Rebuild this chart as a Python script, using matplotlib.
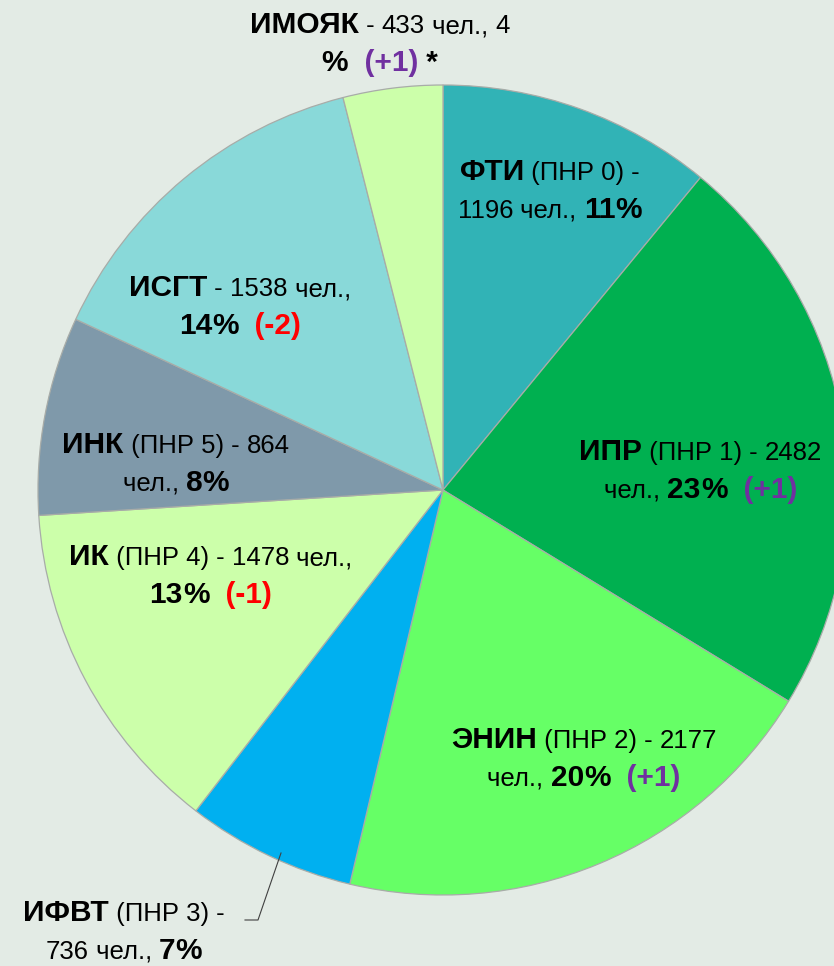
import matplotlib
matplotlib.use('Agg')
import matplotlib.pyplot as plt
from matplotlib.offsetbox import TextArea, HPacker, VPacker, AnnotationBbox

names = ['ФТИ', 'ИПР', 'ЭНИН', 'ИФВТ', 'ИК', 'ИНК', 'ИСГТ', 'ИМОЯК']
counts = [1196, 2482, 2177, 736, 1478, 864, 1538, 433]
percents = [11, 23, 20, 7, 13, 8, 14, 4]
pnr = ['ПНР 0', 'ПНР 1', 'ПНР 2', 'ПНР 3', 'ПНР 4', 'ПНР 5', '', '']
deltas = ['', '+1', '+1', '', '-1', '', '-2', '+1']
colors = ['#31b3b6', '#00b050', '#66ff66', '#00b0f0', '#ccffaa', '#7f99aa', '#89d9d9', '#ccffaa']

# token where the second line of each label starts
breaks = ['count', 'chel', 'chel', 'count', 'pct', 'chel', 'pct', 'sign']
label_pos = [(550, 191), (701, 471), (584, 759), (124, 932),
             (211, 576), (176, 464), (240, 307), (380, 44)]

BG = '#e3ebe5'
FONT = 'Liberation Sans'
BIG, SMALL = 21.5, 18.5

fig = plt.figure(figsize=(8.34, 9.66), dpi=100, facecolor=BG)
ax = fig.add_axes([0, 0, 1, 1])
ax.set_facecolor(BG)

ax.pie(counts, colors=colors, center=(443, 490), radius=405,
       startangle=-90, counterclock=True,
       wedgeprops=dict(edgecolor='#a8aca8', linewidth=0.9))
ax.set_xlim(0, 834)
ax.set_ylim(966, 0)
ax.set_aspect('equal')
ax.axis('off')


def tokens(i):
    bold = dict(fontsize=BIG, fontweight='bold', color='black', family=FONT)
    reg = dict(fontsize=SMALL, color='black', family=FONT)
    t = [('name', names[i], bold)]
    if pnr[i]:
        t.append(('pnr', f' ({pnr[i]})', reg))
    t.append(('dash', ' - ', reg))
    t.append(('count', str(counts[i]), reg))
    t.append(('chel', ' чел., ', reg))
    t.append(('pct', str(percents[i]), reg if breaks[i] == 'sign' else bold))
    t.append(('sign', '%', bold))
    if deltas[i]:
        c = '#7030a0' if deltas[i][0] == '+' else '#ff0000'
        t.append(('delta', f'  ({deltas[i]})', dict(bold, color=c)))
    if names[i] == 'ИМОЯК':
        t.append(('star', ' *', bold))
    return t


for i in range(len(names)):
    t = tokens(i)
    k = [x[0] for x in t].index(breaks[i])
    lines = []
    for part in (t[:k], t[k:]):
        part = [list(p) for p in part]
        part[0][1] = part[0][1].lstrip()
        part[-1][1] = part[-1][1].rstrip()
        boxes = [TextArea(s, textprops=st) for _, s, st in part]
        lines.append(HPacker(children=boxes, align='baseline', pad=0, sep=0))
    box = VPacker(children=lines, align='center', pad=0, sep=7)
    ab = AnnotationBbox(box, label_pos[i], xycoords='data', frameon=False,
                        box_alignment=(0.5, 0.5))
    ax.add_artist(ab)

# leader line for ИФВТ
ax.plot([245, 258, 281], [920, 920, 853], color='#404040', lw=0.8)

fig.savefig('out.png', dpi=100, facecolor=BG)
